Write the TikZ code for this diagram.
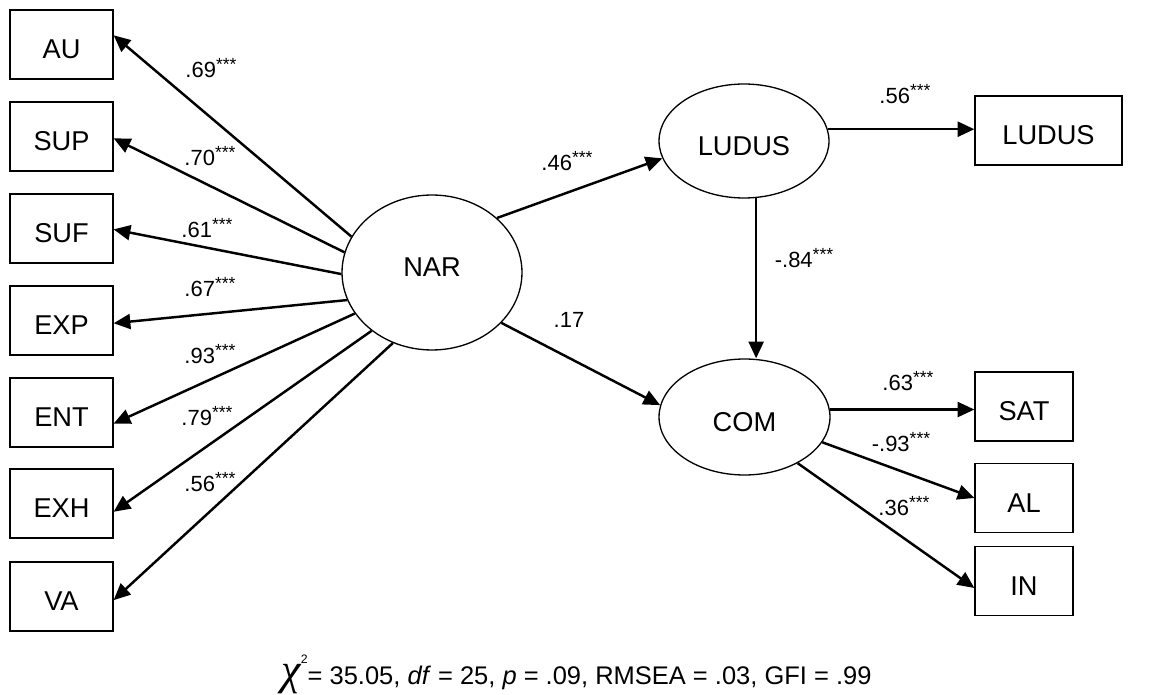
\documentclass[tikz,border=0pt]{standalone}
\usepackage{fontspec}
\setmainfont{Liberation Sans}
\newfontfamily\chifont{Liberation Serif}
\usepackage{tikz}
\usetikzlibrary{positioning}
\usetikzlibrary{arrows.meta,shapes.geometric}
\tikzstyle{obsbox}=[rectangle,draw,line width=0.75pt,minimum width=2.06cm,minimum height=1.38cm,inner sep=0pt,text height=16pt,text depth=0pt,font=\fontsize{15.5}{18}\selectfont]
\tikzstyle{latent}=[ellipse,draw,line width=0.75pt,inner sep=0pt,text height=16pt,text depth=0pt,font=\fontsize{15.5}{18}\selectfont]
\tikzstyle{edge} = [draw,line width=1.4pt,-{Triangle[length=9.5pt,width=8.5pt]}]
\tikzstyle{weight} = [inner sep=0pt,font=\fontsize{12.5}{14}\selectfont]
\newcommand{\stars}{\raisebox{0.3em}{\fontsize{10}{10}\selectfont ***}}

\begin{document}
\begin{tikzpicture}[x=0.02cm,y=-0.02cm]

 \useasboundingbox (0,0) rectangle (1149,695);

 %NAR indicators
   \foreach \x/\y/\name/\label in {61.5/44.5/au/AU, 61.5/136.5/sup/SUP, 61.5/228.5/suf/SUF, 61.5/320.5/exp/EXP, 61.5/412.5/ent/ENT, 61.5/503.5/exh/EXH, 61.5/596.5/va/VA}
          \node[obsbox] (\name) at (\x,\y) {\label};

 %latent
 \node[latent,minimum width=3.6cm,minimum height=3.1cm,text height=10.7pt,text depth=5.6pt] (nar) at (432,272.5) {NAR};
 \node[latent,minimum width=3.4cm,minimum height=2.28cm] (ludus) at (744,141) {LUDUS};
 \node[latent,minimum width=3.42cm,minimum height=2.32cm] (com) at (744.5,417) {COM};

 %LUDUS and COM indicators
   \foreach \x/\y/\name/\label/\w in {1048.5/130.5/ludusbox/LUDUS/2.94cm, 1024/406.5/sat/SAT/1.96cm, 1024/498/al/AL/1.96cm, 1024/581/inb/IN/1.96cm}
          \node[obsbox,minimum width=\w] (\name) at (\x,\y) {\label};

  \foreach \source/ \dest in {nar.156/au.10, nar.167/sup.-2, nar.181/suf.-1, nar.198/exp.-3, nar.208/ent.-12, nar.224/exh.-9, nar.241/va.-4}
         \path[edge] (\source) -- (\dest);

  \foreach \source/ \dest in {nar.40/ludus.192, nar.-36/com.172, com.-18/al.west, com.-41/inb.188}
         \path[edge] (\source) -- (\dest);

 \path[edge] (ludus.8) -- (ludus.8 -| ludusbox.west);
 \path[edge] (com.5) -- (com.5 -| sat.west);
 \path[edge] (ludus.-78) -- (ludus.-78 |- com.north);

 %weights
   \foreach \x/\y/\name/\label in {211/68/wau/.69, 210/156/wsup/.70, 207/228/wsuf/.61, 210/287/wexp/.67, 210/354/went/.93, 207/416/wexh/.79, 210/482/wva/.56, 567/161/wludus/.46, 905/94/wludusbox/.56, 804/258/wcom/-.84, 908/381/wsat/.63, 901/442/wal/-.93, 904/506/win/.36}
          \node[weight] (\name) at (\x,\y) {\label\stars};
 \node[weight] (wnarcom) at (569,320) {.17};

 %fit
 \node[anchor=base,inner sep=0pt,font=\fontsize{14.5}{18}\selectfont] (fit) at (576.5,684) {{\chifont\itshape\fontsize{25}{25}\selectfont χ}\raisebox{0.8em}{\fontsize{7}{7}\selectfont 2}= 35.05, \textit{df} = 25, \textit{p} = .09, RMSEA = .03, GFI = .99};

\end{tikzpicture}
\end{document}
